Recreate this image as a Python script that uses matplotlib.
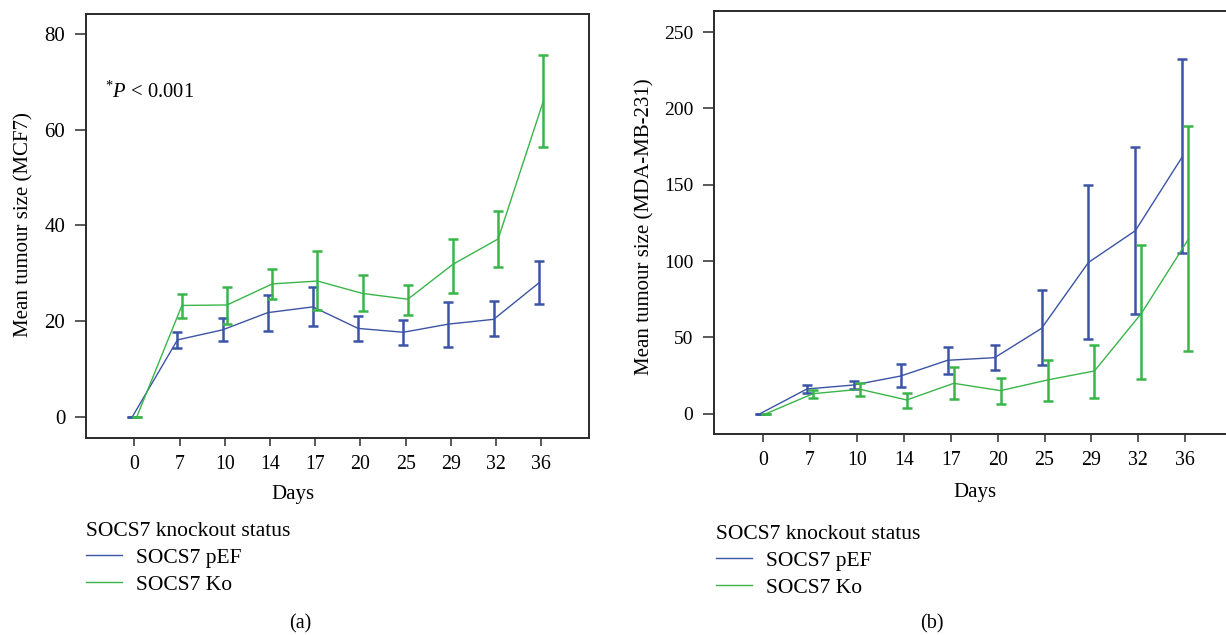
import numpy as np
import matplotlib
matplotlib.use("Agg")
import matplotlib.pyplot as plt
from matplotlib.lines import Line2D

plt.rcParams['font.family'] = ['Liberation Serif', 'DejaVu Serif']
plt.rcParams['mathtext.fontset'] = 'custom'
plt.rcParams['mathtext.rm'] = 'Liberation Serif'
plt.rcParams['mathtext.it'] = 'Liberation Serif:italic'

# data
days = ['0', '7', '10', '14', '17', '20', '25', '29', '32', '36']

# (a) MCF7
mcf7_pef = [0, 16.1, 18.2, 21.8, 23.0, 18.5, 17.7, 19.4, 20.4, 28.0]
mcf7_pef_lo = [0, 14.4, 15.9, 18.0, 19.0, 15.9, 15.1, 14.6, 16.9, 23.7]
mcf7_pef_hi = [0, 17.8, 20.7, 25.5, 27.2, 21.1, 20.3, 24.0, 24.2, 32.6]
mcf7_ko = [0, 23.3, 23.4, 27.8, 28.4, 25.8, 24.6, 31.9, 37.2, 66.0]
mcf7_ko_lo = [0, 20.7, 19.4, 24.6, 22.3, 22.1, 21.4, 25.9, 31.4, 56.4]
mcf7_ko_hi = [0, 25.7, 27.2, 31.0, 34.6, 29.6, 27.6, 37.2, 43.0, 75.7]

# (b) MDA-MB-231
mda_pef = [0, 16.2, 18.8, 24.7, 35.0, 36.7, 55.9, 99.1, 119.9, 168.3]
mda_pef_lo = [0, 13.3, 16.2, 17.5, 26.2, 28.6, 31.9, 49.1, 65.5, 105.2]
mda_pef_hi = [0, 19.0, 21.2, 32.3, 43.7, 45.2, 81.2, 150.0, 174.7, 232.5]
mda_ko = [0, 13.1, 16.0, 9.0, 19.9, 15.1, 22.1, 28.0, 65.7, 114.2]
mda_ko_lo = [0, 10.5, 11.6, 3.9, 9.8, 6.4, 8.1, 10.5, 22.9, 41.3]
mda_ko_hi = [0, 15.5, 19.9, 13.6, 30.6, 23.2, 35.2, 45.2, 110.5, 188.6]

BLUE = '#3b54a5'
GREEN = '#39b54a'
SPINE = '#2b2b2b'

fig = plt.figure(figsize=(12.26, 6.35), dpi=100)
W, H = 1226, 635


def px_axes(x0, y0, x1, y1):
    return fig.add_axes([x0 / W, 1 - y1 / H, (x1 - x0) / W, (y1 - y0) / H])


def draw(ax, pef, pef_lo, pef_hi, ko, ko_lo, ko_hi, dodge, ytick_fs):
    x = np.arange(len(days))
    for vals, lo, hi, col, off in [(pef, pef_lo, pef_hi, BLUE, -dodge),
                                   (ko, ko_lo, ko_hi, GREEN, dodge)]:
        vals = np.array(vals)
        err = [vals - np.array(lo), np.array(hi) - vals]
        ax.plot(x + off, vals, color=col, lw=1.0, zorder=3)
        ax.errorbar(x + off, vals, yerr=err, fmt='none', ecolor=col,
                    elinewidth=1.8, capsize=3.8, capthick=1.8, zorder=3)
    ax.set_xticks(x)
    ax.set_xticklabels(days)
    for s in ax.spines.values():
        s.set_color(SPINE)
        s.set_linewidth(1.4)
    ax.tick_params(axis='x', direction='out', length=6, width=1.1, color=SPINE,
                   labelsize=14.3, pad=6)
    ax.tick_params(axis='y', direction='out', length=8, width=1.1, color=SPINE,
                   labelsize=ytick_fs, pad=7)


# (a)
ax1 = px_axes(86, 14, 589, 438)
draw(ax1, mcf7_pef, mcf7_pef_lo, mcf7_pef_hi, mcf7_ko, mcf7_ko_lo, mcf7_ko_hi, 0.05, 15)
ax1.set_xlim(-1.073, 10.06)
ax1.set_ylim(-4.39, 84.18)
ax1.set_yticks([0, 20, 40, 60, 80])
ax1.set_xlabel('Days', fontsize=15, va='center')
ax1.xaxis.set_label_coords((293 - 86) / 503, -(495 - 438) / 424)
ax1.set_ylabel('Mean tumour size (MCF7)', fontsize=15, va='center', ha='center')
ax1.yaxis.set_label_coords((24 - 86) / 503, (438 - 225) / 424)
ax1.text(0.038, 0.815, r'$^{*}\mathit{P}$ < 0.001', transform=ax1.transAxes,
         fontsize=14.8, va='center', ha='left')

# (b)
ax2 = px_axes(714, 11, 1228, 434)
draw(ax2, mda_pef, mda_pef_lo, mda_pef_hi, mda_ko, mda_ko_lo, mda_ko_hi, 0.064, 14)
ax2.set_xlim(-1.045, 9.91)
ax2.set_ylim(-13.3, 263.8)
ax2.set_yticks([0, 50, 100, 150, 200, 250])
ax2.spines['right'].set_visible(False)
ax2.set_xlabel('Days', fontsize=15, va='center')
ax2.xaxis.set_label_coords((975 - 714) / 514, -(493 - 434) / 423)
ax2.set_ylabel('Mean tumour size (MDA-MB-231)', fontsize=15, va='center', ha='center')
ax2.yaxis.set_label_coords((645 - 714) / 514, (434 - 227) / 423)

handles = [Line2D([], [], color=BLUE, lw=1.0), Line2D([], [], color=GREEN, lw=1.0)]
labels = ['SOCS7 pEF', 'SOCS7 Ko']
for x0, y0 in [(86, 522), (716, 525)]:
    leg = fig.legend(handles, labels, title='SOCS7 knockout status',
                     loc='upper left', bbox_to_anchor=(x0 / W, 1 - y0 / H),
                     frameon=False, fontsize=15.5, title_fontsize=15.5,
                     handlelength=1.67, handletextpad=0.65, labelspacing=0.32,
                     borderpad=0, borderaxespad=0, alignment='left')

fig.text(300 / W, 1 - 624 / H, '(a)', ha='center', va='center', fontsize=14.5)
fig.text(932 / W, 1 - 624 / H, '(b)', ha='center', va='center', fontsize=14.5)

fig.savefig('out.png', dpi=100)
